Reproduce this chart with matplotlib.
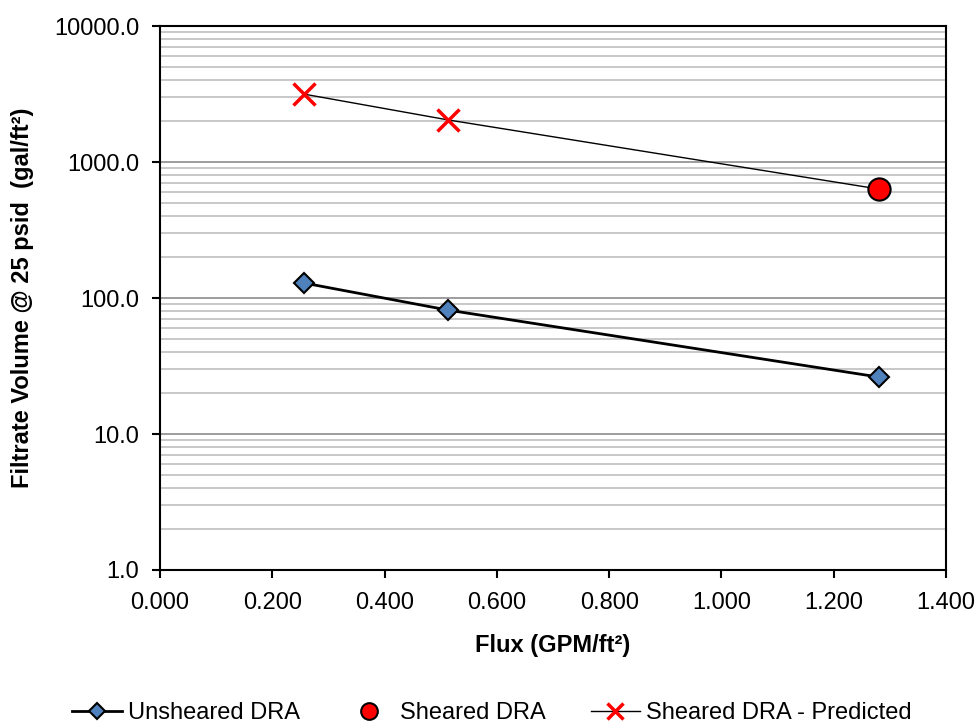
import matplotlib.pyplot as plt
import matplotlib.ticker as ticker
import numpy as np

# data
flux = [0.256, 0.513, 1.281]
unsheared = [129, 81.5, 26.2]
sheared_flux = [1.281]
sheared = [632]
predicted = [3160, 2040, 632]   # last point sits under the sheared marker

plt.rcParams['font.family'] = ['Liberation Sans', 'DejaVu Sans']

fig = plt.figure(figsize=(9.78, 7.25), dpi=100)
ax = fig.add_axes([0.1636, 0.2138, 0.9673 - 0.1636, 0.9641 - 0.2138])

ax.set_yscale('log')
ax.set_ylim(1, 10000)
ax.set_xlim(0, 1.4)

# gridlines: minor light grey, major a bit darker
ax.yaxis.set_minor_locator(ticker.LogLocator(base=10, subs=np.arange(2, 10)))
ax.yaxis.set_minor_formatter(ticker.NullFormatter())
ax.grid(True, which='minor', axis='y', color='#bfbfbf', lw=1.2)
ax.grid(True, which='major', axis='y', color='#8c8c8c', lw=1.2)
ax.set_axisbelow(True)

ax.plot(flux, predicted, color='black', lw=1.0, marker='x', markersize=16,
        markeredgewidth=2.5, markeredgecolor='#ff0000', markevery=[0, 1],
        label='Sheared DRA - Predicted', zorder=3)
ax.plot(flux, unsheared, color='black', lw=2.0, marker='D', markersize=10.5,
        markerfacecolor='#4f81bd', markeredgecolor='black', markeredgewidth=1.5,
        label='Unsheared DRA', zorder=4)
ax.plot(sheared_flux, sheared, ls='none', marker='o', markersize=16,
        markerfacecolor='#ff0000', markeredgecolor='black', markeredgewidth=1.5,
        label='Sheared DRA', zorder=5)

ax.xaxis.set_major_locator(ticker.MultipleLocator(0.2))
ax.xaxis.set_major_formatter(ticker.FormatStrFormatter('%.3f'))
ax.yaxis.set_major_formatter(ticker.FormatStrFormatter('%.1f'))
ax.tick_params(axis='both', which='major', labelsize=17, direction='out',
               length=6, width=1.5, colors='black')
ax.tick_params(axis='y', which='minor', length=0)
ax.tick_params(axis='x', pad=10)
ax.tick_params(axis='y', pad=9)

for s in ax.spines.values():
    s.set_color('black')
    s.set_linewidth(1.5)

ax.set_xlabel('Flux (GPM/ft²)', fontsize=17, fontweight='bold', labelpad=14)
ax.set_ylabel('Filtrate Volume @ 25 psid  (gal/ft²)', fontsize=17,
              fontweight='bold', labelpad=14)

handles, labels = ax.get_legend_handles_labels()
order = [1, 2, 0]
fig.legend([handles[i] for i in order], [labels[i] for i in order],
           loc='center', bbox_to_anchor=(0.503, 0.016), ncol=3, frameon=False,
           fontsize=17, handlelength=2.1, columnspacing=1.9, handletextpad=0.25,
           markerscale=0.75)

fig.savefig('out.png', dpi=100)
